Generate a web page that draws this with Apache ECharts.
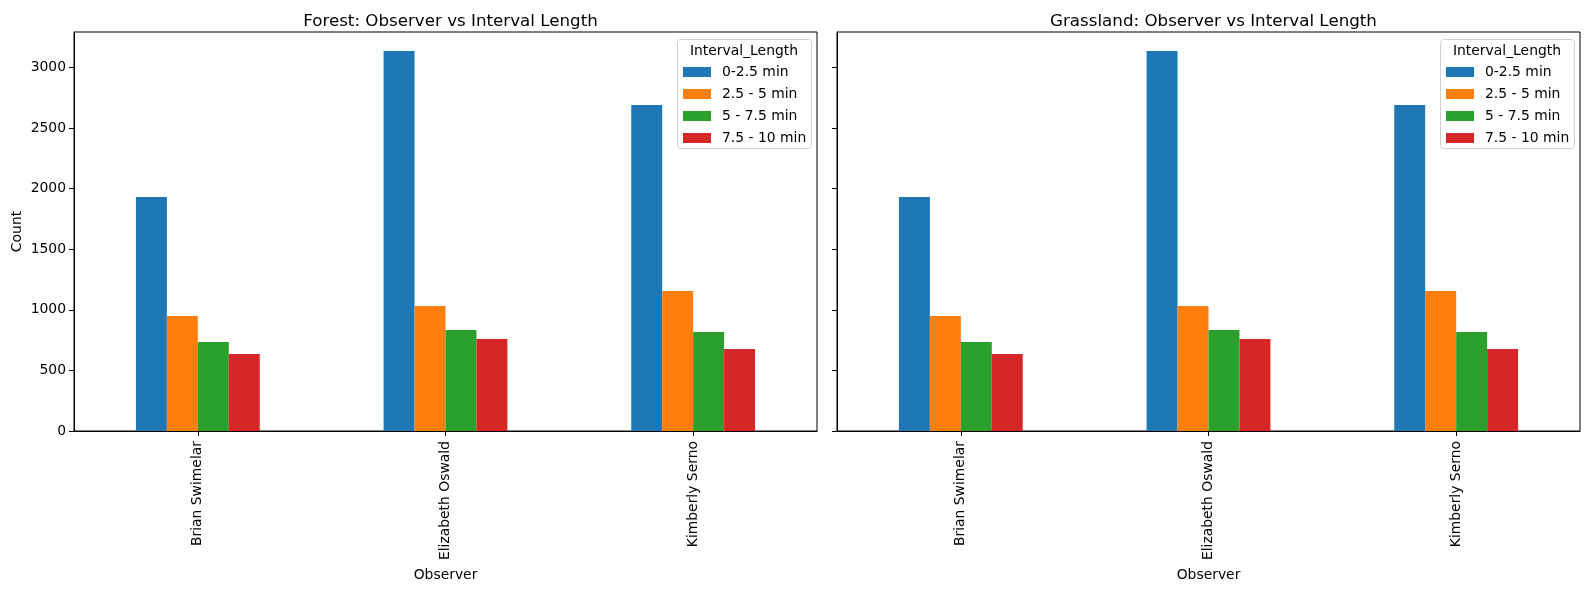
<!DOCTYPE html>
<html>
<head>
<meta charset="utf-8">
<title>Observer vs Interval Length</title>
<script src="https://cdn.jsdelivr.net/npm/echarts@6/dist/echarts.min.js"></script>
<style>
  html, body { margin: 0; padding: 0; background: #fff; }
  #chart { width: 1590px; height: 590px; }
</style>
</head>
<body>
<div id="chart"></div>
<script>
// categories / legend
var observers = ['Brian Swimelar', 'Elizabeth Oswald', 'Kimberly Serno'];
var intervals = ['0-2.5 min', '2.5 - 5 min', '5 - 7.5 min', '7.5 - 10 min'];
var yTicks = [0, 500, 1000, 1500, 2000, 2500, 3000];

// Forest counts, one array per interval (order = observers)
var forest_0_25  = [1930, 3134, 2689];
var forest_25_5  = [949, 1031, 1155];
var forest_5_75  = [734, 833, 817];
var forest_75_10 = [635, 759, 676];

// Grassland counts
var grass_0_25  = [1930, 3134, 2689];
var grass_25_5  = [949, 1031, 1155];
var grass_5_75  = [734, 833, 817];
var grass_75_10 = [635, 759, 676];

var colors = ['#1f77b4', '#ff7f0e', '#2ca02c', '#d62728'];
var font = 'DejaVu Sans';
var fs = 13.9;

// panel geometry (pixels)
var panels = [
    {title: 'Forest: Observer vs Interval Length', left: 74, data: [forest_0_25, forest_25_5, forest_5_75, forest_75_10]},
    {title: 'Grassland: Observer vs Interval Length', left: 837, data: [grass_0_25, grass_25_5, grass_5_75, grass_75_10]}
];
var gw = 743, gTop = 32, gBottom = 159;

var grid = [], xAxis = [], yAxis = [], series = [], title = [], legend = [], graphic = [];

panels.forEach(function(p, k){
    grid.push({left: p.left, top: gTop, width: gw, bottom: gBottom, show: true, borderColor: '#000', borderWidth: 1, backgroundColor: 'transparent'});
    xAxis.push({
        type: 'category', gridIndex: k, data: observers,
        name: 'Observer', nameLocation: 'middle', nameGap: 134,
        nameTextStyle: {color: '#000', fontFamily: font, fontSize: fs},
        axisLine: {lineStyle: {color: '#000', width: 1}},
        axisTick: {show: true, interval: 0, alignWithLabel: true, length: 5, lineStyle: {color: '#000', width: 1}},
        axisLabel: {rotate: 90, interval: 0, margin: 10, color: '#000', fontFamily: font, fontSize: fs}
    });
    yAxis.push({
        type: 'value', gridIndex: k, min: 0, max: 3291,
        name: k === 0 ? 'Count' : '', nameLocation: 'middle', nameGap: 50,
        nameTextStyle: {color: '#000', fontFamily: font, fontSize: fs},
        axisLine: {show: true, lineStyle: {color: '#000', width: 1}},
        axisTick: {show: true, length: 5, lineStyle: {color: '#000', width: 1}, customValues: yTicks},
        axisLabel: {
            show: k === 0, margin: 8, color: '#000', fontFamily: font, fontSize: fs, customValues: yTicks,
            formatter: function(v){ return String(v); }
        },
        splitLine: {show: false}
    });
    for(var i = 0; i < intervals.length; i++){
        series.push({
            name: intervals[i], type: 'bar', xAxisIndex: k, yAxisIndex: k,
            barGap: '0%', barCategoryGap: '50%',
            itemStyle: {color: colors[i]},
            data: p.data[i]
        });
    }
    title.push({
        text: p.title, left: p.left + gw / 2, top: 8, textAlign: 'center',
        textStyle: {color: '#000', fontFamily: font, fontSize: 16.7, fontWeight: 'normal'}
    });
    // legend box + its title
    var bx = p.left + gw - 140;
    graphic.push({
        type: 'rect', left: bx, top: 39, z: 10,
        shape: {width: 134, height: 109, r: 3},
        style: {fill: 'rgba(255,255,255,0.8)', stroke: '#d0d0d0', lineWidth: 1}
    });
    graphic.push({
        type: 'text', z: 11, x: bx + 67, y: 51,
        style: {text: 'Interval_Length', fill: '#000', font: fs + 'px "' + font + '"', textAlign: 'center', textVerticalAlign: 'middle'}
    });
    legend.push({
        data: intervals, orient: 'vertical', left: bx + 6, top: 65, padding: 0, z: 12,
        icon: 'rect', itemWidth: 28, itemHeight: 10, itemGap: 8,
        textStyle: {color: '#000', fontFamily: font, fontSize: fs, padding: [0, 0, 0, 6]}
    });
});

var option = {
    animation: false,
    color: colors,
    title: title,
    legend: legend,
    grid: grid,
    xAxis: xAxis,
    yAxis: yAxis,
    graphic: graphic,
    series: series
};
echarts.init(document.getElementById('chart')).setOption(option);
</script>
</body>
</html>
